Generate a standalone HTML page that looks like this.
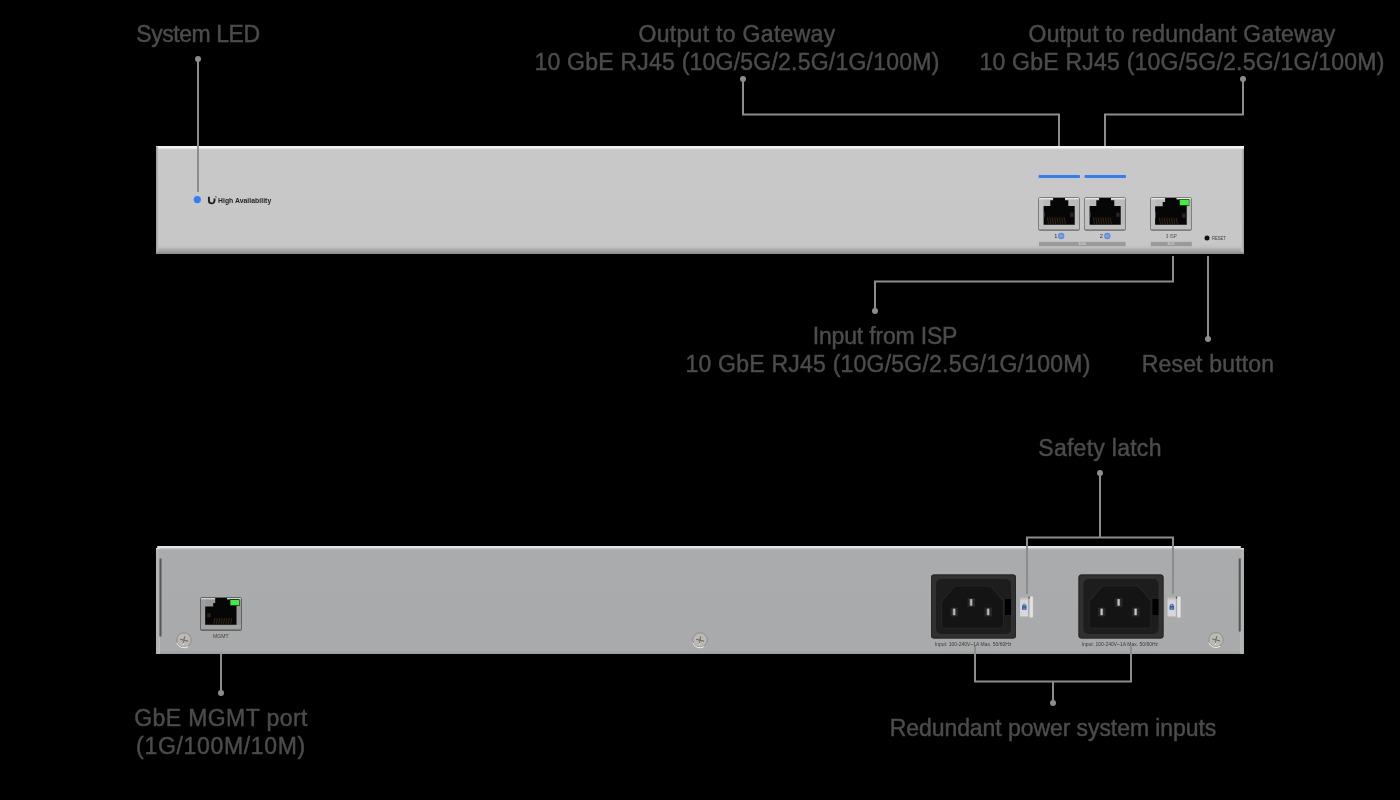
<!DOCTYPE html>
<html>
<head>
<meta charset="utf-8">
<style>
html,body{margin:0;padding:0;background:#000;}
body{width:1400px;height:800px;position:relative;overflow:hidden;font-family:"Liberation Sans",sans-serif;}
.l{position:absolute;width:600px;color:#4c4c4c;font-size:23px;line-height:28px;height:28px;white-space:nowrap;text-align:center;will-change:transform;-webkit-text-stroke:0.45px #4c4c4c;}
.panel{position:absolute;left:156px;width:1088px;height:108px;}
#p1{top:146px;background:linear-gradient(#f2f2f2 0,#f0f0f0 2px,#d4d4d4 3px,#c8c8c8 4px,#c7c7c7 98px,#c2c2c2 101px,#aaaaaa 104px,#8c8c8c 108px);}
#p2{top:546px;background:linear-gradient(#dedede 0,#ececec 1.2px,#d0d0d0 2.2px,#b0b1b2 3.2px,#aaabac 5px,#a9aaab 104px,#a4a5a6 106px,#9a9a9a 108px);}
svg{position:absolute;left:0;top:0;}
.t{position:absolute;white-space:nowrap;line-height:1;}
</style>
</head>
<body>

<div class="panel" id="p1"></div>
<div class="panel" id="p2"></div>

<!-- labels -->
<div class="l" style="left:-102px;top:20px;letter-spacing:-0.44px;">System LED</div>
<div class="l" style="left:437px;top:20px;letter-spacing:0.31px;">Output to Gateway</div>
<div class="l" style="left:437px;top:48px;letter-spacing:0.23px;">10 GbE RJ45 (10G/5G/2.5G/1G/100M)</div>
<div class="l" style="left:882px;top:20px;letter-spacing:0.19px;">Output to redundant Gateway</div>
<div class="l" style="left:882px;top:48px;letter-spacing:0.23px;">10 GbE RJ45 (10G/5G/2.5G/1G/100M)</div>
<div class="l" style="left:584.5px;top:322px;letter-spacing:-0.18px;">Input from ISP</div>
<div class="l" style="left:588px;top:350px;letter-spacing:0.23px;">10 GbE RJ45 (10G/5G/2.5G/1G/100M)</div>
<div class="l" style="left:908px;top:350px;letter-spacing:0.18px;">Reset button</div>
<div class="l" style="left:800px;top:434px;letter-spacing:0.27px;">Safety latch</div>
<div class="l" style="left:-79px;top:704px;letter-spacing:0.42px;">GbE MGMT port</div>
<div class="l" style="left:-79px;top:732px;letter-spacing:0.67px;">(1G/100M/10M)</div>
<div class="l" style="left:753px;top:714px;letter-spacing:-0.07px;">Redundant power system inputs</div>

<svg width="1400" height="800" viewBox="0 0 1400 800">
  <defs>
    <linearGradient id="ledge" x1="0" x2="1"><stop offset="0" stop-color="#9c9c9c"/><stop offset="1" stop-color="#b9b9b9"/></linearGradient>
    <linearGradient id="latchBody" x1="0" y1="0" x2="0" y2="1"><stop offset="0" stop-color="#a6a6a6"/><stop offset="0.22" stop-color="#d2d4d6"/><stop offset="1" stop-color="#d6d8da"/></linearGradient>
    <linearGradient id="barG" x1="0" x2="1"><stop offset="0" stop-color="#8c8c8c"/><stop offset="0.3" stop-color="#dadada"/><stop offset="0.75" stop-color="#e6e6e6"/><stop offset="1" stop-color="#b8b8b8"/></linearGradient>
    <linearGradient id="redge" x1="0" x2="1"><stop offset="0" stop-color="#c4c4c4"/><stop offset="1" stop-color="#9a9a9a"/></linearGradient>
    <linearGradient id="pinG" x1="0" x2="1">
      <stop offset="0" stop-color="#6a6a6a"/><stop offset="0.5" stop-color="#cfcfcf"/><stop offset="1" stop-color="#7a7a7a"/>
    </linearGradient>
    <g id="rj">
      <rect x="0.5" y="0.5" width="41" height="33" rx="1.5" fill="#bababa" stroke="#7e7e7e" stroke-width="1"/>
      <rect x="1" y="1" width="4.6" height="27" fill="#c2c2c2"/>
      <rect x="1.2" y="1" width="39.6" height="1.3" fill="#e8e8e8"/>
      <rect x="1" y="27.7" width="40" height="4.5" fill="#bfbfbf"/>
      <rect x="1" y="32" width="40" height="1.2" fill="#8e8e8e"/>
      <path d="M15.1 1H27V3.2H30.3V9H36.7V27.7H5.6V9H12.3V3.2H15.1Z" fill="#060606"/>
      <rect x="5.6" y="14.6" width="0.8" height="5.7" fill="#6a6a6a"/>
      <rect x="32.2" y="15.6" width="3.3" height="4.3" fill="#262626"/>
      <path d="M9.4 20.3l1.1 6.6M11.8 20.3l1.1 6.6M14.2 20.3l1.1 6.6M16.6 20.3l1.1 6.6M19 20.3l1.1 6.6M21.4 20.3l1.1 6.6M23.8 20.3l1.1 6.6M26.2 20.3l1.1 6.6" stroke="#5e4428" stroke-width="0.55"/>
    </g>
    <g id="rjl">
      <rect x="0.5" y="0.5" width="41" height="33" rx="1.5" fill="#bababa" stroke="#7e7e7e" stroke-width="1"/>
      <rect x="1" y="1" width="4.6" height="27" fill="#c2c2c2"/>
      <rect x="1.2" y="1" width="39.6" height="1.3" fill="#e8e8e8"/>
      <rect x="1" y="27.7" width="40" height="4.5" fill="#bfbfbf"/>
      <rect x="1" y="32" width="40" height="1.2" fill="#8e8e8e"/>
      <path d="M15.1 1H26.5V2.5H39V8.4H36.7V27.7H5.1V9.2H12.7V5.1H15.1Z" fill="#060606"/>
      <rect x="29.3" y="2.4" width="10" height="6.2" fill="#161616"/>
      <rect x="29.8" y="2.8" width="9.1" height="5.4" rx="0.5" fill="#3ef03e"/>
      <rect x="5.1" y="14.6" width="0.8" height="6.7" fill="#5a5a5a"/>
      <rect x="32.2" y="16.5" width="3.3" height="4.3" fill="#262626"/>
      <path d="M9.4 20.8l1.1 6.4M11.8 20.8l1.1 6.4M14.2 20.8l1.1 6.4M16.6 20.8l1.1 6.4M19 20.8l1.1 6.4M21.4 20.8l1.1 6.4M23.8 20.8l1.1 6.4M26.2 20.8l1.1 6.4" stroke="#5e4428" stroke-width="0.55"/>
    </g>
    <g id="rjm">
      <rect x="0.5" y="0.5" width="41" height="33" rx="1.2" fill="#989898" stroke="#626262" stroke-width="1"/>
      <rect x="1" y="1" width="4.6" height="27" fill="#9e9e9e"/>
      <rect x="1.2" y="1" width="39.6" height="1.3" fill="#d2d2d2"/>
      <rect x="1" y="27.7" width="40" height="4.5" fill="#a3a3a3"/>
      <rect x="1" y="32" width="40" height="1.2" fill="#7a7a7a"/>
      <path d="M15.2 1H27V2.5H39V8.4H36.5V27.7H5.2V9.5H13.2V6H15.2Z" fill="#060606"/>
      <rect x="29.8" y="2.4" width="9.8" height="6.4" fill="#161616"/>
      <rect x="30.4" y="2.9" width="8.7" height="5.4" rx="0.5" fill="#3ef03e"/>
      <rect x="7.2" y="16.4" width="3.4" height="4" fill="#262626"/>
      <path d="M15 21l-1.1 5.8M17.4 21l-1.1 5.8M19.8 21l-1.1 5.8M22.2 21l-1.1 5.8M24.6 21l-1.1 5.8M27 21l-1.1 5.8M29.4 21l-1.1 5.8M31.8 21l-1.1 5.8" stroke="#5e4428" stroke-width="0.55"/>
    </g>
    <g id="inlet">
      <rect x="0" y="0" width="85" height="64" rx="2.5" fill="#303030"/>
      <rect x="0.5" y="0.5" width="84" height="63" rx="2.5" fill="none" stroke="#262626" stroke-width="1"/>
      <rect x="5" y="4.5" width="75" height="55" rx="5" fill="#1d1d1d"/>
      <path d="M10.5 27L23.5 11.8Q24.5 11.5 25.5 11.5H58Q59 11.5 60 12.2L72.5 26V50Q72.5 53.8 69 53.8H14Q10.5 53.8 10.5 50Z" fill="#141414" stroke="#242424" stroke-width="1.2"/>
      <rect x="74" y="24.5" width="6" height="16" fill="#000"/>
      <rect x="36.5" y="23.5" width="7.5" height="9" rx="0.5" fill="#262626"/>
      <rect x="38.6" y="24.6" width="3" height="6.6" fill="url(#pinG)"/>
      <rect x="19.5" y="33" width="7.5" height="9" rx="0.5" fill="#262626"/>
      <rect x="21.6" y="34.1" width="3" height="6.6" fill="url(#pinG)"/>
      <rect x="53.5" y="33" width="7.5" height="9" rx="0.5" fill="#262626"/>
      <rect x="55.6" y="34.1" width="3" height="6.6" fill="url(#pinG)"/>
    </g>
    <g id="latch">
      <rect x="0" y="0" width="8.8" height="20.5" fill="url(#latchBody)"/>
      <rect x="8.4" y="0.6" width="5.1" height="21" rx="1.3" fill="url(#barG)"/>
      <rect x="8.4" y="0.6" width="1.3" height="2" fill="#555"/>
      <rect x="2" y="9.6" width="4.6" height="4.2" rx="0.9" fill="#3b5ea8"/>
      <path d="M2.9 9.8V8.9Q4.3 7.4 5.8 8.9V9.8" stroke="#3b5ea8" stroke-width="0.9" fill="none"/>
      <rect x="3.2" y="11.8" width="2.2" height="0.8" fill="#8ea4d0"/>
    </g>
    <g id="screw">
      <circle r="7.2" fill="#bcb9b5" stroke="#7e7e7e" stroke-width="0.7"/>
      <path d="M-7.2 2.9A7.8 7.8 0 0 0 4.2 6.6" stroke="#f2f2f2" stroke-width="1" fill="none"/>
      <path d="M-3.4 -0.7L-0.3 0.1M0.6 -3.2L0.1 -0.4M3.7 1.1L0.5 0.3" stroke="#72706d" stroke-width="1.2" stroke-linecap="round"/>
      <path d="M-0.2 0.8L-0.7 2.8" stroke="#7c7a77" stroke-width="1.1" stroke-linecap="round"/>
      <circle cx="-0.5" cy="4.3" r="0.7" fill="#e2e0dc"/>
    </g>
  </defs>

  <!-- top panel edge shading -->
  <rect x="156" y="146.5" width="2" height="105" fill="url(#ledge)"/>
  <rect x="1241.5" y="149" width="2.5" height="103" fill="url(#redge)"/>

  <!-- system LED + logo -->
  <circle cx="197.3" cy="199.6" r="3.6" fill="#2e7ff8"/>
  <path d="M208.9 196.8V200.6A2.8 2.8 0 0 0 214.5 200.6V198.4" stroke="#1e1e1e" stroke-width="1.9" fill="none"/>
  <path d="M215 196.6h1.2v1.4" stroke="#333" stroke-width="0.6" fill="none"/>

  <!-- LED bars -->
  <rect x="1038.5" y="175" width="41.5" height="3" rx="1" fill="#2f7ef2"/>
  <rect x="1084.5" y="175" width="41.5" height="3" rx="1" fill="#2f7ef2"/>

  <!-- ports -->
  <use href="#rj" x="1038" y="197"/>
  <use href="#rj" x="1084" y="197"/>
  <use href="#rjl" x="1150" y="197"/>

  <!-- port labels -->
  <circle cx="1061.2" cy="236" r="3.2" fill="#5a8ddc"/><rect x="1059.4" y="234.6" width="3.6" height="2.8" fill="#7ea6e6"/>
  <circle cx="1107.3" cy="236" r="3.2" fill="#5a8ddc"/><rect x="1105.5" y="234.6" width="3.6" height="2.8" fill="#7ea6e6"/>
  <rect x="1039" y="241.8" width="86.6" height="4.4" fill="#9a9a9a"/>
  <rect x="1150.8" y="241.8" width="41" height="4.4" fill="#9a9a9a"/>
  <circle cx="1207" cy="238" r="2.5" fill="#111"/>

  <!-- bottom panel ears/slots -->
  <rect x="156" y="546" width="1.2" height="2" fill="#000"/><rect x="156" y="548" width="3.2" height="1.5" fill="#dedede"/><rect x="156" y="549.5" width="3.2" height="104.5" fill="#b3b4b5"/><rect x="159.2" y="636.5" width="0.8" height="17.5" fill="#c4c4c4"/>
  <rect x="159.5" y="558.5" width="2" height="78" fill="#555"/>
  <rect x="1240.8" y="546" width="3.2" height="2" fill="#000"/><rect x="1240.8" y="548" width="3.2" height="1.5" fill="#dedede"/><rect x="1240.8" y="549.5" width="3.2" height="104.5" fill="#b0b1b2"/><rect x="1240.5" y="631" width="0.8" height="23" fill="#c4c4c4"/>
  <rect x="1238.7" y="558.5" width="2" height="73" fill="#555"/>

  <!-- mgmt port -->
  <use href="#rjm" x="200" y="597"/>

  <!-- screws -->
  <use href="#screw" x="184" y="640"/>
  <use href="#screw" x="700" y="640"/>
  <use href="#screw" x="1216" y="639.7"/>

  <!-- power inlets -->
  <use href="#inlet" x="931" y="574.5"/>
  <use href="#inlet" x="1078.5" y="574.5"/>
  <use href="#latch" x="1020" y="596"/>
  <use href="#latch" x="1167.5" y="596"/>

  <!-- leader lines -->
  <g fill="none" stroke="#8c8c8c" stroke-width="2">
    <path d="M198 59V192"/>
    <path d="M743 79V114.5H1059V146"/>
    <path d="M1243 79V114.5H1105V146"/>
    <path d="M1173 256V281.5H875V311"/>
    <path d="M1208 256V339"/>
    <path d="M1100 473V537.5M1027 594V537.5H1173V594"/>
    <path d="M221 654V693"/>
    <path d="M975 646V681.5H1131V646M1053 681.5V703"/>
  </g>
  <g fill="#8c8c8c">
    <circle cx="198" cy="59" r="3"/>
    <circle cx="743" cy="79" r="3"/>
    <circle cx="1243" cy="79" r="3"/>
    <circle cx="875" cy="311" r="3"/>
    <circle cx="1208" cy="339" r="3"/>
    <circle cx="1100" cy="473" r="3"/>
    <circle cx="221" cy="693" r="3"/>
    <circle cx="1053" cy="703" r="3"/>
  </g>
</svg>

<!-- small device texts -->
<div class="t" style="left:218px;top:197.5px;font-size:6.8px;font-weight:bold;color:#222;letter-spacing:0.05px;">High Availability</div>
<div class="t" style="left:1054.2px;top:233.6px;font-size:5.6px;color:#2e2e2e;">1</div>
<div class="t" style="left:1099.8px;top:233.6px;font-size:5.6px;color:#2e2e2e;">2</div>
<div class="t" style="left:1165.7px;top:234.8px;font-size:4.6px;color:#505050;">3 ISP</div>
<div class="t" style="left:1078.3px;top:242.2px;font-size:4px;color:#e6e6e6;">10G</div>
<div class="t" style="left:1167px;top:242px;font-size:4px;color:#e0e0e0;">10G</div>
<div class="t" style="left:1211.8px;top:235.6px;font-size:5.2px;color:#3c3c3c;transform:scaleX(0.8);transform-origin:0 0;">RESET</div>
<div class="t" style="left:213px;top:634px;font-size:5.1px;color:#444;">MGMT</div>
<div class="t" style="left:934.8px;top:642px;font-size:5px;color:#3a3a3a;">Input: 100-240V~1A Max. 50/60Hz</div>
<div class="t" style="left:1081.5px;top:642px;font-size:5px;color:#3a3a3a;">Input: 100-240V~1A Max. 50/60Hz</div>

</body>
</html>
